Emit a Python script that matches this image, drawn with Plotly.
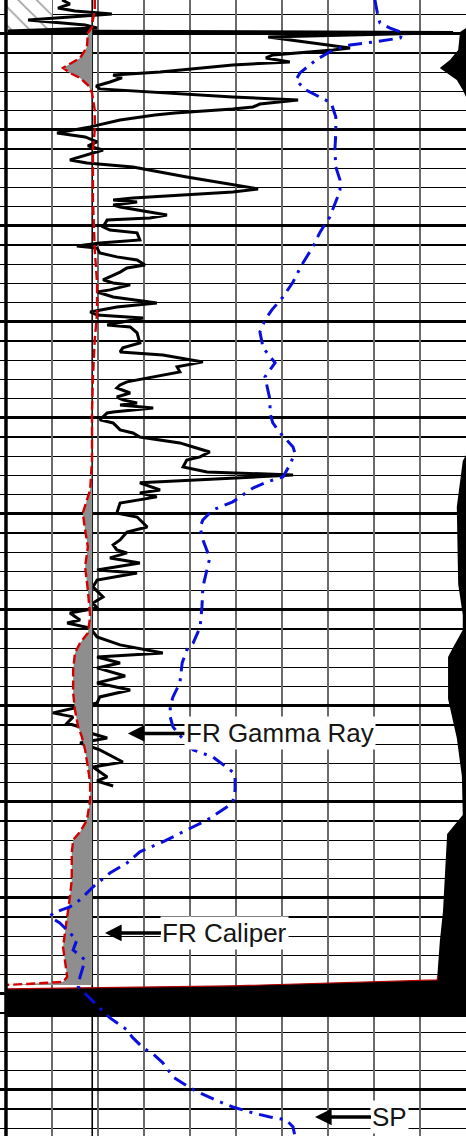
import plotly.graph_objects as go

# ---------------- data ----------------
# Gamma ray: depth (ft) and API (scale 0-100 API across the track)
gr_depth = [982.3, 984.4, 986.5, 988.0, 989.6, 992.7, 995.3, 996.9, 998.4, 999.2,
            1001.6, 1007.3, 1008.3, 1010.9, 1012.5, 1014.6, 1016.1, 1019.8, 1021.4, 1022.9,
            1025.0, 1027.1, 1028.6, 1032.8, 1034.4, 1036.5, 1038.0, 1039.1, 1041.1, 1042.2,
            1044.8, 1048.4, 1051.6, 1053.6, 1056.2, 1058.3, 1060.4, 1063.0, 1065.6, 1067.2,
            1069.3, 1074.5, 1078.6, 1080.7, 1082.3, 1085.4, 1086.5, 1087.5, 1089.1, 1090.1,
            1094.3, 1095.8, 1096.9, 1100.5, 1102.1, 1103.6, 1107.3, 1108.9, 1110.4, 1111.5,
            1114.1, 1116.1, 1117.7, 1120.3, 1121.9, 1124.0, 1128.1, 1129.7, 1130.7, 1133.3,
            1134.4, 1137.0, 1140.1, 1142.2, 1144.8, 1146.4, 1147.9, 1151.6, 1152.6, 1155.7,
            1160.9, 1163.5, 1165.6, 1167.2, 1170.8, 1173.4, 1176.0, 1178.6, 1181.2, 1182.8,
            1184.4, 1187.0, 1189.1, 1190.6, 1192.2, 1193.2, 1194.8, 1196.9, 1197.4, 1201.0,
            1202.6, 1206.2, 1207.8, 1209.9, 1213.0, 1215.1, 1217.7, 1220.3, 1221.9, 1225.5,
            1228.1, 1229.7, 1233.8, 1237.5, 1239.1, 1241.1, 1242.7, 1244.3, 1249.5, 1251.6,
            1256.8, 1259.4, 1263.5, 1266.1, 1268.7, 1270.3, 1272.9, 1275.5, 1279.2, 1280.7,
            1284.4, 1288.0, 1293.2, 1296.4, 1299.0, 1301.6, 1305.2, 1306.8, 1309.4, 1314.1,
            1318.2, 1322.4, 1324.5, 1327.6, 1330.2, 1334.4, 1338.0, 1341.7, 1345.3, 1348.4,
            1353.6, 1355.7, 1358.9, 1361.5, 1364.1, 1366.7, 1369.3, 1372.9, 1379.2, 1381.8,
            1387.0, 1389.1, 1391.7]
gr_api = [12.2, 13.9, 11.3, 15.0, 23.0, 4.8, 17.2, 19.8, 0.4, 97.2,
          57.0, 74.8, 71.1, 58.0, 56.5, 61.7, 49.3, 33.5, 23.3, 25.2,
          22.6, 19.6, 20.4, 49.3, 63.5, 55.2, 53.7, 49.3, 36.7, 32.4,
          24.8, 18.3, 11.1, 17.2, 19.8, 17.8, 21.1, 17.2, 13.9, 17.6,
          27.6, 39.3, 49.3, 54.8, 49.3, 27.6, 23.3, 28.5, 23.3, 24.8,
          35.0, 31.3, 22.0, 21.1, 22.6, 28.5, 29.1, 20.4, 15.4, 19.8,
          20.4, 24.1, 28.5, 30.2, 26.3, 24.8, 21.1, 23.3, 27.0, 22.6,
          19.8, 23.3, 32.8, 24.1, 18.3, 19.8, 29.8, 22.0, 27.0, 28.5,
          29.1, 25.4, 24.8, 34.1, 42.8, 37.2, 37.8, 32.0, 26.3, 24.8,
          24.1, 27.0, 24.1, 25.4, 28.5, 24.8, 32.0, 23.3, 22.0, 20.4,
          23.3, 24.8, 27.6, 29.1, 37.8, 40.7, 44.3, 42.2, 39.3, 38.5,
          43.7, 62.4, 29.1, 33.5, 29.1, 32.8, 29.1, 24.8, 24.1, 28.5,
          30.7, 26.3, 24.8, 23.3, 24.1, 26.3, 22.6, 29.1, 19.8, 28.5,
          19.8, 18.9, 21.1, 18.9, 19.8, 13.9, 16.1, 13.3, 18.3, 19.8,
          24.8, 34.1, 19.8, 24.8, 19.8, 25.9, 19.8, 27.0, 20.4, 19.8,
          10.2, 14.6, 13.3, 16.7, 18.3, 22.0, 16.1, 20.4, 25.4, 18.9,
          22.0, 19.8, 23.3]

# Caliper: depth (ft) and hole size (in), scale 6-16 in
cal_depth = [982.3, 987.5, 992.7, 996.4, 999.5, 1006.8, 1012.5, 1016.1, 1017.7, 1020.3,
             1022.9, 1026.6, 1030.7, 1039.6, 1050.0, 1060.4, 1086.5, 1112.5, 1129.7, 1145.3,
             1159.4, 1178.6, 1197.4, 1221.9, 1237.5, 1242.7, 1249.5, 1258.3, 1267.2, 1277.6,
             1289.6, 1303.6, 1312.0, 1317.2, 1322.4, 1331.2, 1343.2, 1352.1, 1360.9, 1366.1,
             1372.9, 1381.8, 1390.1, 1399.0, 1409.4, 1415.6, 1419.8, 1426.6, 1440.6, 1449.5,
             1459.9, 1468.2, 1475.5, 1482.3, 1491.1, 1493.7, 1494.3, 1494.8, 1495.3]
cal_in = [7.93, 7.93, 7.89, 7.87, 7.78, 7.76, 7.61, 7.33, 7.24, 7.39,
          7.61, 7.78, 7.87, 7.93, 7.93, 7.89, 7.89, 7.93, 7.98, 7.98,
          7.93, 7.89, 7.87, 7.87, 7.83, 7.76, 7.67, 7.72, 7.78, 7.72,
          7.78, 7.83, 7.78, 7.61, 7.50, 7.46, 7.46, 7.50, 7.57, 7.65,
          7.72, 7.78, 7.83, 7.83, 7.76, 7.61, 7.46, 7.43, 7.43, 7.39,
          7.33, 7.28, 7.24, 7.28, 7.33, 7.24, 6.89, 6.46, 6.02]
bit_size_in = 7.875

# SP: depth (ft) and mV (10 mV per division)
sp_depth = [982.3, 984.9, 991.1, 994.3, 996.9, 999.5, 1002.1, 1004.2, 1005.7, 1008.3,
            1013.5, 1020.3, 1024.0, 1029.2, 1031.8, 1035.9, 1043.2, 1051.6, 1060.4, 1069.3,
            1076.0, 1081.2, 1085.4, 1095.3, 1103.1, 1110.9, 1120.3, 1129.2, 1137.0, 1143.7,
            1149.0, 1155.2, 1163.5, 1171.3, 1178.6, 1185.4, 1190.6, 1197.4, 1202.6, 1207.8,
            1215.1, 1218.2, 1224.5, 1230.7, 1233.3, 1236.5, 1243.7, 1247.9, 1253.1, 1256.8,
            1263.5, 1272.9, 1279.2, 1288.0, 1298.4, 1308.9, 1317.2, 1320.8, 1327.6, 1338.0,
            1345.3, 1350.5, 1355.7, 1360.9, 1366.7, 1372.9, 1376.6, 1384.4, 1387.0, 1393.7,
            1400.0, 1402.6, 1409.4, 1414.6, 1420.8, 1426.0, 1431.8, 1437.0, 1444.3, 1451.0,
            1454.7, 1457.8, 1459.9, 1463.0, 1466.7, 1471.9, 1477.1, 1482.3, 1491.1, 1496.3,
            1504.7, 1512.5, 1518.7, 1522.4, 1528.1, 1530.7, 1535.9, 1543.2, 1549.0, 1551.6,
            1556.2, 1558.9, 1562.0, 1564.1, 1565.6, 1569.3, 1574.0]
sp_mv = [0.2, 0.4, 0.9, 1.3, 3.5, 6.3, 5.7, -0.2, -5.2, -8.9,
         -12.6, -16.1, -17.0, -14.8, -12.6, -9.3, -8.3, -8.3, -8.5, -8.3,
         -7.4, -7.4, -8.0, -9.6, -11.7, -13.3, -15.7, -17.6, -19.8, -22.2,
         -23.7, -24.8, -24.1, -21.5, -23.7, -23.0, -22.6, -22.6, -22.0, -20.4,
         -17.6, -17.2, -18.3, -19.8, -23.3, -26.3, -30.7, -35.0, -37.2, -37.8,
         -37.2, -35.7, -36.3, -37.2, -37.4, -37.8, -39.3, -40.7, -41.7, -42.2,
         -43.7, -44.3, -44.3, -43.7, -41.7, -39.3, -35.0, -30.7, -30.2, -30.2,
         -30.7, -32.0, -36.3, -40.7, -45.9, -50.9, -53.7, -57.4, -61.1, -63.9,
         -66.1, -69.8, -70.4, -68.3, -66.7, -64.6, -65.4, -62.8, -63.9, -64.3,
         -60.7, -57.4, -53.7, -52.6, -50.2, -48.3, -45.9, -43.7, -40.0, -37.8,
         -33.5, -30.7, -26.3, -22.6, -19.1, -17.6, -17.2]

# Right-hand filled curve (track divisions 0-10), ends in the black band
rhs_depth = [996.9, 999.0, 1008.3, 1013.5, 1017.7, 1020.3, 1024.0, 1029.2, 1032.8, 1219.3,
             1222.4, 1246.3, 1286.5, 1302.6, 1310.4, 1320.3, 1324.5, 1346.4, 1366.7, 1386.5,
             1398.4, 1406.8, 1416.7, 1436.5, 1456.8, 1472.9, 1490.6, 1492.7, 1495.8, 1497.4]
rhs_div = [10.0, 9.87, 9.83, 9.65, 9.43, 9.59, 9.80, 9.93, 10.0, 10.0,
           9.93, 9.80, 9.83, 9.93, 9.93, 9.70, 9.61, 9.61, 9.80, 9.91,
           9.93, 9.93, 9.59, 9.54, 9.50, 9.43, 9.39, 9.37, 4.93, 0.0]
band_base_depth = 1512.0

# Hatched interval at the top left (depth ft, track divisions)
hatch_depth = [980.0, 998.4]
hatch_div = [0.0, 1.0]

# Curve labels
label_text = ["FR Gamma Ray", "FR Caliper", "SP"]
label_depth = [1364.3, 1468.2, 1564.1]
label_div = [2.65, 2.152, 6.717]
label_offset_px = [152, 120, 75]

# ---------------- axes scales ----------------
DEPTH_RANGE = [1574.0, 982.3]
DIV_RANGE = [-0.13, 10.0]
GR_RANGE = [-1.3, 100.0]
CAL_RANGE = [5.87, 16.0]
SP_RANGE = [-81.3, 20.0]
TRACK_RIGHT = 10.0

fig = go.Figure()

# hatched area
fig.add_trace(go.Scatter(
    x=[hatch_div[0], hatch_div[1], hatch_div[1], hatch_div[0]],
    y=[hatch_depth[0], hatch_depth[0], hatch_depth[1], hatch_depth[1]],
    mode="lines", fill="toself", line=dict(width=0),
    fillpattern=dict(shape="\\", fgcolor="#3c3c3c", bgcolor="white", size=13, solidity=0.12),
    xaxis="x", yaxis="y", hoverinfo="skip", showlegend=False))

# caliper shading (caliper smaller than bit size)
cal_clip = [min(c, bit_size_in) for c in cal_in]
fig.add_trace(go.Scatter(
    x=[bit_size_in] * len(cal_depth), y=cal_depth, mode="lines", line=dict(width=0),
    xaxis="x3", yaxis="y", hoverinfo="skip", showlegend=False))
fig.add_trace(go.Scatter(
    x=cal_clip, y=cal_depth, mode="lines", line=dict(width=0),
    fill="tonextx", fillcolor="#8e8e8e",
    xaxis="x3", yaxis="y", hoverinfo="skip", showlegend=False))

# gamma ray
fig.add_trace(go.Scatter(
    x=gr_api, y=gr_depth, mode="lines", line=dict(color="black", width=3),
    xaxis="x2", yaxis="y", showlegend=False))

# caliper
fig.add_trace(go.Scatter(
    x=cal_in, y=cal_depth, mode="lines",
    line=dict(color="#d40000", width=2.4, dash="9px,4px"),
    xaxis="x3", yaxis="y", showlegend=False))

# SP
fig.add_trace(go.Scatter(
    x=sp_mv, y=sp_depth, mode="lines",
    line=dict(color="#0a10dc", width=3, dash="14px,7px,3px,7px"),
    xaxis="x4", yaxis="y", showlegend=False))

# right-hand black fill + band
poly_x = list(rhs_div) + [rhs_div[-1], TRACK_RIGHT + 0.2, TRACK_RIGHT + 0.2]
poly_y = list(rhs_depth) + [band_base_depth, band_base_depth, rhs_depth[0]]
fig.add_trace(go.Scatter(
    x=poly_x, y=poly_y, mode="lines", fill="toself", fillcolor="black",
    line=dict(width=0), xaxis="x", yaxis="y", hoverinfo="skip", showlegend=False))
fig.add_trace(go.Scatter(
    x=rhs_div[-4:], y=rhs_depth[-4:], mode="lines",
    line=dict(color="#b00000", width=1.2),
    xaxis="x", yaxis="y", hoverinfo="skip", showlegend=False))

shapes = [
    dict(type="line", xref="x", yref="paper", x0=0, x1=0, y0=0, y1=1,
         line=dict(color="black", width=3.5), layer="above"),
    dict(type="line", xref="x", yref="paper", x0=5, x1=5, y0=0, y1=1,
         line=dict(color="black", width=1.8), layer="between"),
    dict(type="line", xref="x3", yref="paper", x0=bit_size_in, x1=bit_size_in, y0=0, y1=1,
         line=dict(color="black", width=1.6), layer="between"),
]

annotations = []
for txt, d, xv, off in zip(label_text, label_depth, label_div, label_offset_px):
    annotations.append(dict(
        x=xv, y=d, xref="x", yref="y", text=txt, showarrow=True,
        ax=off, ay=0, axref="pixel", ayref="pixel",
        arrowhead=2, arrowsize=0.95, arrowwidth=3.5, arrowcolor="black",
        standoff=0, bgcolor="white", borderpad=1,
        font=dict(family="Liberation Sans, Arial, sans-serif", size=26, color="#151515")))

axis_hidden = dict(visible=False, overlaying="x", showgrid=False, zeroline=False)

fig.update_layout(
    width=466, height=1136,
    margin=dict(l=0, r=0, t=0, b=0, pad=0),
    paper_bgcolor="white", plot_bgcolor="white",
    showlegend=False,
    shapes=shapes, annotations=annotations,
    xaxis=dict(range=DIV_RANGE, dtick=1, tick0=0, showgrid=True,
               gridcolor="#6a6a6a", gridwidth=1.6, zeroline=False,
               showticklabels=False, ticks="", showline=False),
    xaxis2=dict(range=GR_RANGE, **axis_hidden),
    xaxis3=dict(range=CAL_RANGE, **axis_hidden),
    xaxis4=dict(range=SP_RANGE, **axis_hidden),
    yaxis=dict(range=DEPTH_RANGE, dtick=50, tick0=1000, showgrid=True,
               gridcolor="black", gridwidth=3, zeroline=False,
               showticklabels=False, ticks="", showline=False,
               minor=dict(dtick=10, tick0=1000, showgrid=True,
                          gridcolor="black", gridwidth=1.4)),
)

fig.write_html("out.html",
               config={"displayModeBar": False, "staticPlot": True},
               post_script="document.body.style.margin='0';document.body.style.padding='0';document.body.style.overflow='hidden';")
